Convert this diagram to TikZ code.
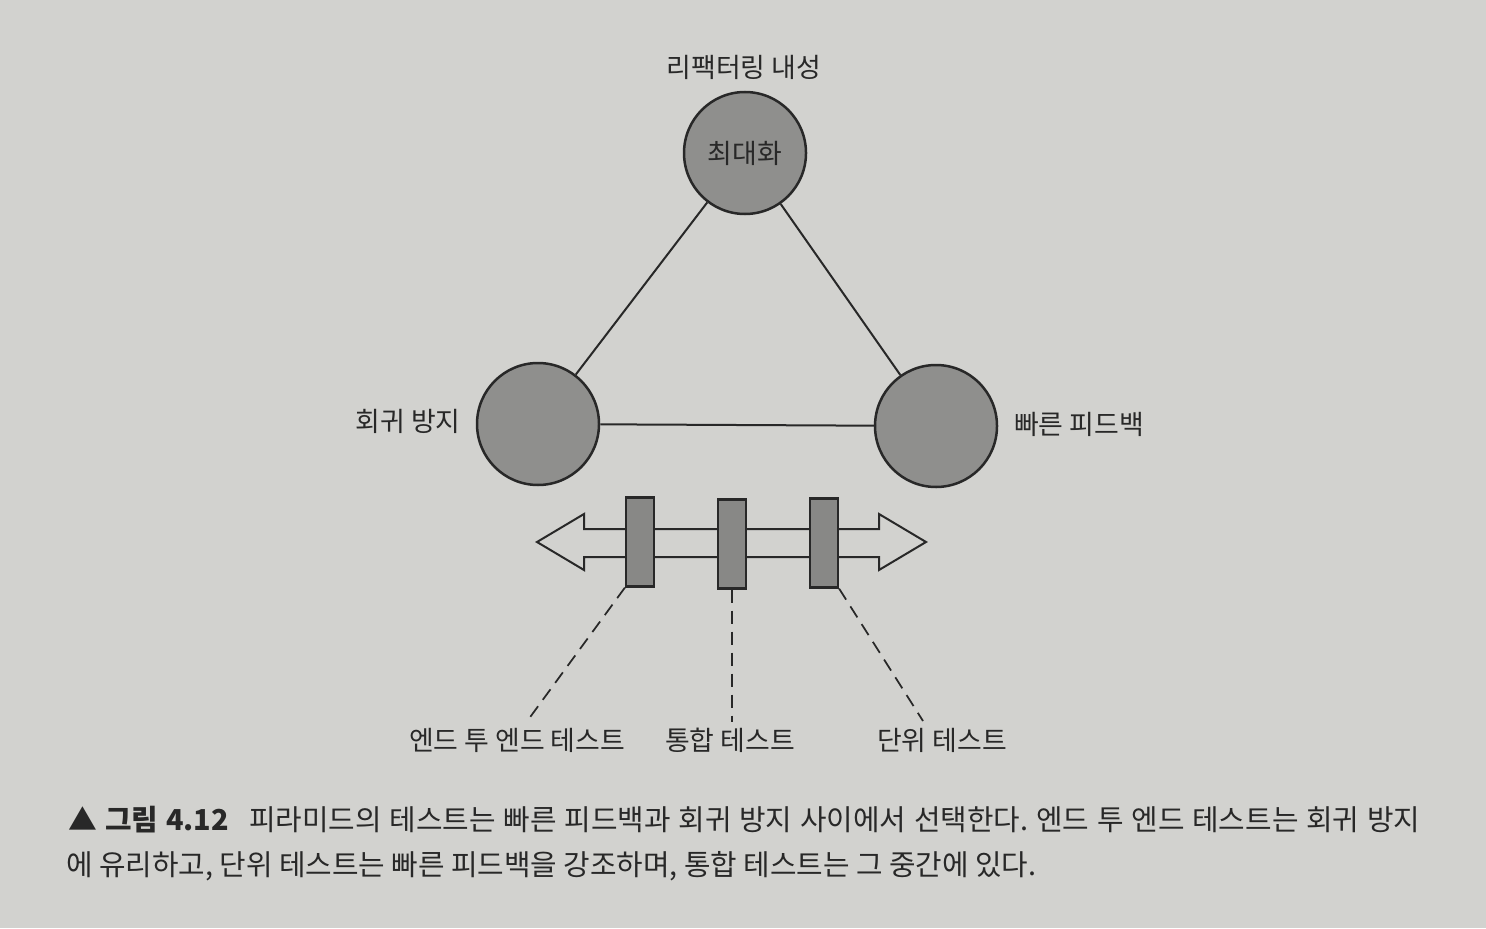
\documentclass[tikz,border=0pt]{standalone}
\usepackage{fontspec}
\setmainfont{Noto Sans CJK KR}
\usepackage{tikz}
\usetikzlibrary{positioning}

\definecolor{paper}{RGB}{210,210,207}
\definecolor{ink}{RGB}{40,40,40}
\definecolor{disc}{RGB}{143,143,141}
\frenchspacing

\begin{document}
\begin{tikzpicture}[
  x=0.2mm, y=-0.2mm,
  ball/.style={circle, draw=ink, fill=disc, line width=0.5mm, minimum size=24.4mm, inner sep=0pt},
  probe/.style={rectangle, draw=ink, fill=disc!95!black, line width=0.45mm, minimum width=5.6mm, minimum height=17.8mm, inner sep=0pt},
  link/.style={ink, line width=0.4mm},
  lead/.style={ink, line width=0.35mm, dash pattern=on 2.6mm off 1.6mm},
  tag/.style={text=ink, font=\fontsize{15.3}{17}\selectfont, inner sep=1pt},
  every node/.append style={text=ink}
]

% Paper
\fill[paper] (0,0) rectangle (1486,928);

% Circles
\node[ball, tag] (refac) at (745,153) {최대화};
\node[ball] (regr) at (538,424) {};
\node[ball] (fast) at (936,426) {};

% Circle labels
\node[tag] (refacT) at (744,67) {리팩터링 내성};
\node[tag] (regrT) at (408,421) {회귀 방지};
\node[tag] (fastT) at (1079,424) {빠른 피드백};

% Triangle
\draw[link] (refac) -- (regr);
\draw[link] (refac) -- (fast);
\draw[link] (regr) -- (fast);

% Double arrow
\draw[ink, line width=0.4mm, fill=paper, line join=miter]
  (537,542) -- (584,514) -- (584,529) -- (879,529) -- (879,514) -- (926,542)
  -- (879,570) -- (879,557) -- (584,557) -- (584,570) -- cycle;

% Tests
\node[probe] (pE) at (640,542) {};
\node[probe] (pI) at (732,544) {};
\node[probe] (pU) at (824,543) {};

% Test labels
\node[tag] (e2e) at (517,740) {엔드 투 엔드 테스트};
\node[tag] (integ) at (730,740) {통합 테스트};
\node[tag] (unit) at (942,740) {단위 테스트};

\coordinate (e2eEnd) at (528,720);
\coordinate (integEnd) at (732,722);
\coordinate (unitEnd) at (923,721);

\draw[lead] (pE.south west) -- (e2eEnd);
\draw[lead] (pI.south) -- (integEnd);
\draw[lead] (pU.south east) -- (unitEnd);

% Caption
\node[anchor=west, inner sep=0pt, font=\fontsize{16.4}{19}\selectfont] (capA) at (68,820)
  {\makebox[270.4mm][s]{\textbf{▲ 그림 4.12}\hspace{0.7em}피라미드의 테스트는 빠른 피드백과 회귀 방지 사이에서 선택한다. 엔드 투 엔드 테스트는 회귀 방지}};
\node[anchor=west, inner sep=0pt, font=\fontsize{16.4}{19}\selectfont] (capB) at (66,866)
  {에 유리하고, 단위 테스트는 빠른 피드백을 강조하며, 통합 테스트는 그 중간에 있다.};

\end{tikzpicture}
\end{document}
